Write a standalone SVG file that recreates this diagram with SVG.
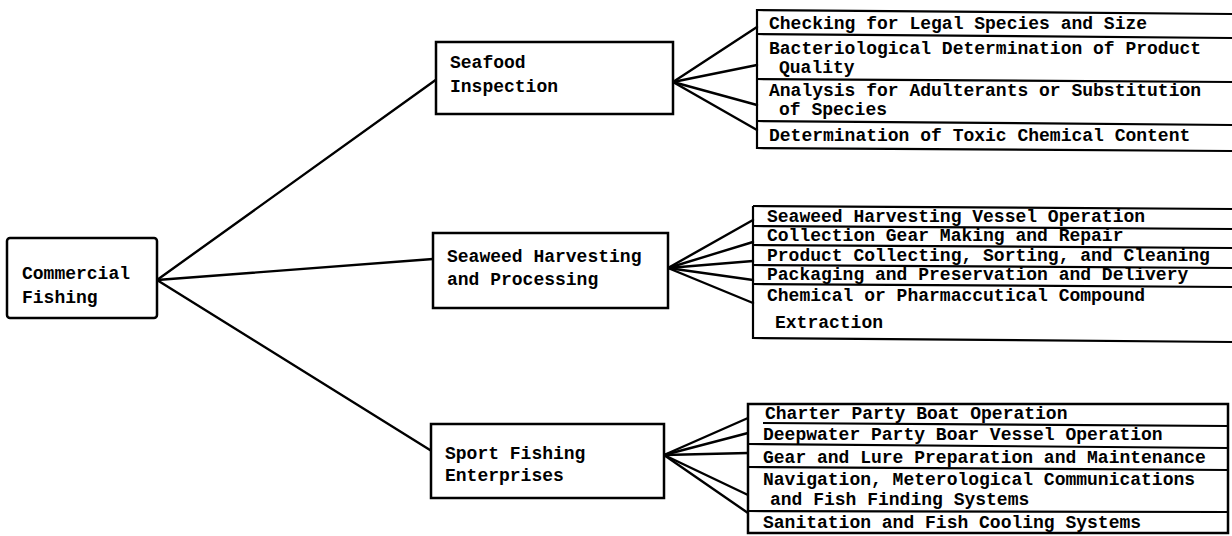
<svg xmlns="http://www.w3.org/2000/svg" width="1232" height="536" viewBox="0 0 1232 536">
  <style>
    .box { fill: #fff; stroke: #000; stroke-width: 2.5; }
    .rule { stroke: #000; stroke-width: 2.2; fill: none; }
    .link { stroke: #000; stroke-width: 2.4; fill: none; stroke-linecap: round; }
    .t { font-family: "Liberation Mono", "Courier New", monospace; font-weight: bold; font-size: 18px; fill: #000; }
  </style>
  <rect width="1232" height="536" fill="#fff"/>

  <!-- connectors -->
  <g id="connectors">
    <line class="link" x1="157" y1="280" x2="437" y2="79"/>
    <line class="link" x1="157" y1="280" x2="433" y2="259"/>
    <line class="link" x1="157" y1="280" x2="430" y2="450"/>

    <line class="link" x1="673" y1="82" x2="757" y2="27"/>
    <line class="link" x1="673" y1="82" x2="757" y2="65"/>
    <line class="link" x1="673" y1="82" x2="757" y2="105"/>
    <line class="link" x1="673" y1="82" x2="757" y2="130"/>

    <line class="link" x1="668" y1="268" x2="753" y2="220"/>
    <line class="link" x1="668" y1="268" x2="753" y2="242"/>
    <line class="link" x1="668" y1="268" x2="753" y2="261"/>
    <line class="link" x1="668" y1="268" x2="753" y2="280"/>
    <line class="link" x1="668" y1="268" x2="753" y2="303"/>

    <line class="link" x1="664" y1="455" x2="748" y2="418"/>
    <line class="link" x1="664" y1="455" x2="748" y2="433"/>
    <line class="link" x1="664" y1="455" x2="748" y2="453"/>
    <line class="link" x1="664" y1="455" x2="748" y2="495"/>
    <line class="link" x1="664" y1="455" x2="748" y2="513"/>
  </g>

  <!-- root node -->
  <g id="commercial-fishing">
    <rect class="box" x="7" y="238" width="150" height="80" rx="3"/>
    <text class="t" x="22" y="279">Commercial</text>
    <text class="t" x="22" y="303">Fishing</text>
  </g>

  <!-- second level -->
  <g id="seafood-inspection">
    <rect class="box" x="436" y="42" width="237" height="72"/>
    <text class="t" x="450" y="68">Seafood</text>
    <text class="t" x="450" y="92">Inspection</text>
  </g>

  <g id="seaweed-harvesting">
    <rect class="box" x="433" y="233" width="235" height="75"/>
    <text class="t" x="447" y="262">Seaweed Harvesting</text>
    <text class="t" x="447" y="285">and Processing</text>
  </g>

  <g id="sport-fishing">
    <rect class="box" x="431" y="424" width="233" height="74"/>
    <text class="t" x="445" y="459">Sport Fishing</text>
    <text class="t" x="445" y="481">Enterprises</text>
  </g>

  <!-- seafood inspection tasks -->
  <g id="seafood-tasks">
    <line class="rule" x1="757" y1="9" x2="757" y2="149"/>
    <line class="rule" x1="757" y1="10" x2="1232" y2="14"/>
    <line class="rule" x1="757" y1="34" x2="1232" y2="38"/>
    <line class="rule" x1="757" y1="79" x2="1232" y2="82"/>
    <line class="rule" x1="757" y1="121" x2="1232" y2="125"/>
    <line class="rule" x1="757" y1="148" x2="1232" y2="151"/>
    <text class="t" x="769" y="29">Checking for Legal Species and Size</text>
    <text class="t" x="769" y="54">Bacteriological Determination of Product</text>
    <text class="t" x="779" y="73">Quality</text>
    <text class="t" x="769" y="96">Analysis for Adulterants or Substitution</text>
    <text class="t" x="779" y="115">of Species</text>
    <text class="t" x="769" y="141">Determination of Toxic Chemical Content</text>
  </g>

  <!-- seaweed harvesting tasks -->
  <g id="seaweed-tasks">
    <line class="rule" x1="753" y1="206" x2="753" y2="339"/>
    <line class="rule" x1="753" y1="206" x2="1232" y2="209"/>
    <line class="rule" x1="753" y1="226" x2="1232" y2="229"/>
    <line class="rule" x1="753" y1="245" x2="1232" y2="248"/>
    <line class="rule" x1="753" y1="265" x2="1232" y2="268"/>
    <line class="rule" x1="753" y1="284" x2="1232" y2="287"/>
    <line class="rule" x1="753" y1="338" x2="1232" y2="342"/>
    <text class="t" x="767" y="222">Seaweed Harvesting Vessel Operation</text>
    <text class="t" x="767" y="241">Collection Gear Making and Repair</text>
    <text class="t" x="767" y="261">Product Collecting, Sorting, and Cleaning</text>
    <text class="t" x="767" y="280">Packaging and Preservation and Delivery</text>
    <text class="t" x="767" y="301">Chemical or Pharmaccutical Compound</text>
    <text class="t" x="775" y="328">Extraction</text>
  </g>

  <!-- sport fishing tasks -->
  <g id="sport-tasks">
    <rect class="box" x="748" y="404" width="480" height="129" fill="none"/>
    <line class="rule" x1="763" y1="423" x2="1228" y2="426"/>
    <line class="rule" x1="748" y1="444" x2="1228" y2="448"/>
    <line class="rule" x1="748" y1="467" x2="1228" y2="470"/>
    <line class="rule" x1="748" y1="511" x2="1228" y2="512"/>
    <text class="t" x="765" y="419">Charter Party Boat Operation</text>
    <text class="t" x="763" y="440">Deepwater Party Boar Vessel Operation</text>
    <text class="t" x="763" y="463">Gear and Lure Preparation and Maintenance</text>
    <text class="t" x="763" y="485">Navigation, Meterological Communications</text>
    <text class="t" x="770" y="505">and Fish Finding Systems</text>
    <text class="t" x="763" y="528">Sanitation and Fish Cooling Systems</text>
  </g>
</svg>
